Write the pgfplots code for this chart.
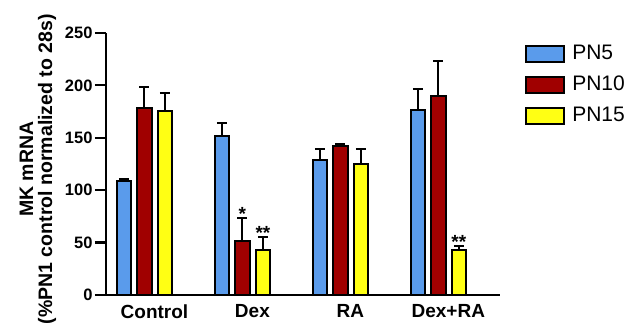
\documentclass[border=0pt]{standalone}
\usepackage{pgfplots}
\pgfplotsset{compat=1.18}
\usepackage{fontspec}
\setmainfont{Liberation Sans}
\definecolor{cblue}{RGB}{90,155,235}
\definecolor{cred}{RGB}{160,0,0}
\definecolor{cyel}{RGB}{255,255,20}
\begin{document}
\begin{tikzpicture}
\useasboundingbox (-106pt,-31pt) rectangle (526pt,295pt);
\begin{axis}[
  at={(0pt,0pt)}, anchor=south west,
  scale only axis, width=394pt, height=262pt,
  xmin=-0.393, xmax=3.63, ymin=0, ymax=250,
  axis x line*=bottom, axis y line*=left,
  axis line style={-, line width=2.8pt},
  ybar, bar width=14.5pt,
  xtick={0,1,2,3}, xticklabels={Control,Dex,RA,Dex+RA},
  major x tick style={draw=none},
  ytick={0,50,100,150,200,250},
  tick align=outside, major tick length=11pt,
  major y tick style={line width=2.2pt, black},
  /pgf/number format/assume math mode=true,
  yticklabel style={font=\fontsize{16.5}{16.5}\selectfont\bfseries, xshift=1pt},
  xticklabel style={font=\fontsize{19}{19}\selectfont\bfseries, xshift=10pt, yshift=5pt},
  ylabel={MK mRNA\\(\%PN1 control normalized to 28s)},
  ylabel style={at={(axis description cs:-0.173,0.48)}, anchor=center, align=center, font=\fontsize{19.5}{19}\selectfont\bfseries},
  legend style={at={(1.056,0.97)}, anchor=north west, draw=none, fill=none,
    row sep=10pt, font=\fontsize{21}{21}\selectfont,
    nodes={text height=14pt, text depth=3pt, inner sep=2pt}},
  legend cell align=left,
  legend image code/.code={\draw[#1, line width=2pt] (0pt,-8pt) rectangle (38pt,8pt); \path (43pt,0pt);},
  error bars/y dir=plus, error bars/y explicit,
  error bars/error bar style={line width=2pt, black},
  error bars/error mark options={rotate=90, mark size=5pt, line width=2pt, black},
]
\addplot[fill=cblue, draw=black, line width=2pt, bar shift=-20.5pt]
  coordinates {(0,109) +- (0,2) (1,152) +- (0,12) (2,129) +- (0,10.5) (3,177) +- (0,19.5)};
\addplot[fill=cred, draw=black, line width=2pt, bar shift=0pt]
  coordinates {(0,178) +- (0,20) (1,52) +- (0,21) (2,142) +- (0,2) (3,190) +- (0,33)};
\addplot[fill=cyel, draw=black, line width=2pt, bar shift=20.5pt]
  coordinates {(0,176) +- (0,17) (1,43) +- (0,12) (2,125) +- (0,14.5) (3,43) +- (0,3.5)};
\legend{PN5,PN10,PN15}
\node[font=\fontsize{19}{19}\selectfont\bfseries] at (axis cs:1,77) {*};
\node[font=\fontsize{19}{19}\selectfont\bfseries, xshift=20.5pt] at (axis cs:1,59) {**};
\node[font=\fontsize{19}{19}\selectfont\bfseries, xshift=20.5pt] at (axis cs:3,51) {**};
\end{axis}
\end{tikzpicture}
\end{document}
